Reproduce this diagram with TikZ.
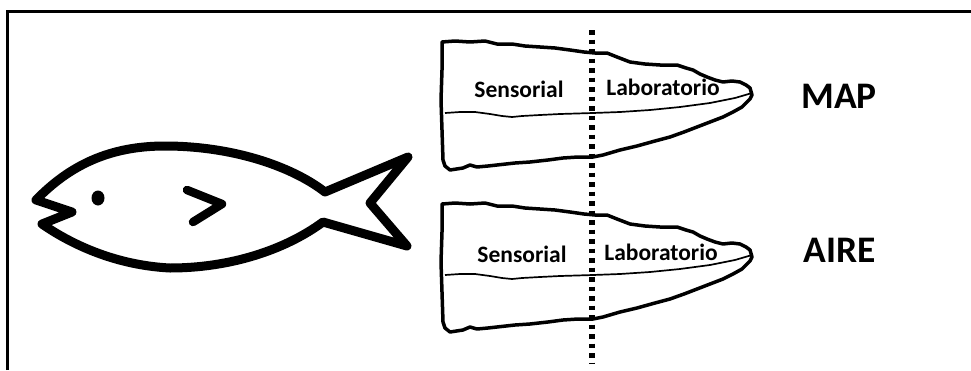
\documentclass[tikz,border=0pt]{standalone}
\usepackage{fontspec}
\setmainfont{Carlito}
\begin{document}
\begin{tikzpicture}[x=1pt,y=-1pt,
  frameline/.style={line width=3pt},
  fishline/.style={line width=9pt,line join=round},
  filletline/.style={line width=3.5pt,line join=round},
  seamline/.style={line width=1.7pt,line join=round},
  cutline/.style={line width=5.5pt,dash pattern=on 4.5pt off 5pt},
  zonelabel/.style={font=\bfseries\fontsize{23.5}{23.5}\selectfont,anchor=base,inner sep=0pt},
  grouplabel/.style={font=\bfseries\fontsize{37.5}{37.5}\selectfont,anchor=base,inner sep=0pt}]
\useasboundingbox (0,0) rectangle (971,370);

% frame (top and left sides)
\draw[frameline] (7,370) -- (7,11) -- (971,11);

% fish body
\draw[fishline] (42,224) -- (72,212) -- (36,200)
  .. controls (70,165) and (110,146) .. (165,146)
  .. controls (230,146) and (290,165) .. (325,192)
  -- (408,157) -- (370,203) -- (407,246) -- (323,222)
  .. controls (285,250) and (230,268) .. (170,268)
  .. controls (110,265) and (65,240) .. (42,224) -- cycle;
% eye and gill
\fill (98,198) ellipse [x radius=6.5, y radius=7.5];
\draw[line width=8.5pt,line cap=round,line join=round] (187,190) -- (222,204) -- (193,222);

% fillet outline, drawn once per sample
\foreach \dy/\nm in {0/map,162/aire}{
\begin{scope}[yshift=-\dy pt]
\draw[filletline] (442,42) -- (455,41) -- (470,42) -- (485,41) -- (497,44) -- (512,44)
  -- (525,46) -- (540,47) -- (555,48) -- (570,50) -- (584,52) -- (595,53) -- (607,53)
  -- (617,57) -- (630,62) -- (645,64) -- (660,65) -- (677,65) -- (686,68) -- (693,70)
  -- (700,74) -- (707,77) -- (715,80) -- (723,82) -- (732,81) -- (740,82) -- (746,85)
  -- (750,88) -- (752,95) -- (750,99) -- (742,107) -- (733,112) -- (723,117)
  -- (710,122) -- (697,127) -- (684,132) -- (670,137) -- (655,141) -- (637,146)
  -- (620,150) -- (603,155) -- (593,157) -- (578,157) -- (563,158) -- (548,160)
  -- (530,162) -- (515,163) -- (497,165) -- (488,166) -- (477,167) -- (470,165)
  -- (463,168) -- (450,170) -- (445,166) -- (443,160) -- (442,130) -- (441,100)
  -- (442,70) -- cycle;
\draw[seamline] (445,113) -- (460,112) -- (475,112) -- (490,114) -- (502,116)
  -- (512,117) -- (522,116) -- (540,115) -- (560,114) -- (593,113) -- (620,112)
  -- (650,110) -- (680,107) -- (710,103) -- (735,98) -- (752,93);
\end{scope}}

% labels
\node[zonelabel] (sensmap) at (519,97) {Sensorial};
\node[zonelabel] (labmap) at (663,95) {Laboratorio};
\node[zonelabel] (sensaire) at (522,262) {Sensorial};
\node[zonelabel] (labaire) at (661,260) {Laboratorio};
\node[grouplabel] (map) at (839,108) {MAP};
\node[grouplabel] (aire) at (840,262) {AIRE};

% dividing cut line
\coordinate (cuttop) at (592,30);
\coordinate (cutbot) at (592,363);
\draw[cutline] (cuttop) -- (cutbot);
\end{tikzpicture}
\end{document}
